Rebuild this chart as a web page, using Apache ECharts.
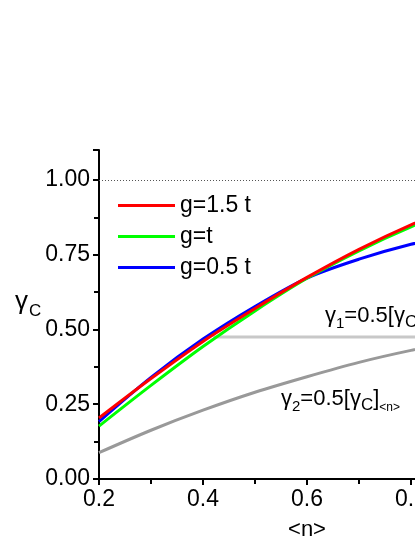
<!DOCTYPE html>
<html>
<head>
<meta charset="utf-8">
<script src="https://cdn.jsdelivr.net/npm/echarts@6/dist/echarts.min.js"></script>
<style>
html, body { margin: 0; padding: 0; background: #fff; }
#chart { width: 415px; height: 537px; }
</style>
</head>
<body>
<div id="chart"></div>
<script>
// <n> sample points
var nValues = [0.2, 0.3, 0.4, 0.5, 0.6, 0.7, 0.8, 0.85];
// gamma_C for the three couplings
var gRed = [0.204, 0.336, 0.46, 0.57, 0.674, 0.768, 0.85, 0.882];   // g=1.5 t
var gGreen = [0.177, 0.313, 0.443, 0.562, 0.671, 0.763, 0.843, 0.874]; // g=t
var gBlue = [0.192, 0.34, 0.468, 0.577, 0.672, 0.735, 0.785, 0.8];   // g=0.5 t
// gamma_2 curve
var gamma2 = [0.088, 0.163, 0.23, 0.29, 0.342, 0.39, 0.43, 0.445];
// gamma_1 flat line
var gamma1X = [0.42, 1.0];
var gamma1Y = [0.475, 0.475];
var legendNames = ['g=1.5 t', 'g=t', 'g=0.5 t'];
var yTicks = [0, 0.25, 0.5, 0.75, 1.0];

function pairs(xs, ys) {
    return xs.map(function (x, i) { return [x, ys[i]]; });
}

var FONT = "'Liberation Sans', Arial, sans-serif";
var chart = echarts.init(document.getElementById('chart'));

var option = {
    animation: false,
    backgroundColor: '#fff',
    textStyle: { fontFamily: FONT, color: '#000' },
    // plot runs on past the right edge of the picture
    grid: { left: 99, width: 416, top: 150, bottom: 58, containLabel: false, outerBoundsMode: 'none' },
    legend: {
        data: legendNames,
        orient: 'vertical',
        left: 118,
        top: 194,
        padding: 0,
        icon: 'rect',
        itemWidth: 57,
        itemHeight: 3,
        itemGap: 8,
        textStyle: { fontSize: 23, color: '#000', fontFamily: FONT }
    },
    xAxis: {
        type: 'value',
        min: 0.2,
        max: 1.0,
        interval: 0.2,
        name: '<n>',
        nameLocation: 'middle',
        nameGap: 40,
        nameTextStyle: { fontSize: 22, color: '#000', fontFamily: FONT },
        axisLine: { lineStyle: { color: '#000', width: 2 } },
        axisTick: { length: 6, lineStyle: { color: '#000', width: 2 } },
        minorTick: { show: true, splitNumber: 2, length: 5, lineStyle: { color: '#000', width: 2 } },
        axisLabel: { fontSize: 23, color: '#000', margin: 9, fontFamily: FONT,
            formatter: function (v) { return v.toFixed(1); } },
        splitLine: { show: false }
    },
    yAxis: {
        type: 'value',
        min: 0,
        max: 1.1,
        interval: 0.25,
        axisLine: { show: true, lineStyle: { color: '#000', width: 2 } },
        axisTick: { show: true, length: 6, lineStyle: { color: '#000', width: 2 } },
        minorTick: { show: true, splitNumber: 2, length: 5, lineStyle: { color: '#000', width: 2 } },
        axisLabel: { fontSize: 23, color: '#000', margin: 9, fontFamily: FONT,
            formatter: function (v) { return yTicks.indexOf(v) >= 0 ? v.toFixed(2) : ''; } },
        splitLine: { show: false }
    },
    series: [
        {
            name: 'gamma1', type: 'line', data: pairs(gamma1X, gamma1Y),
            symbol: 'none', lineStyle: { color: '#c8c8c8', width: 3 },
            markLine: {
                silent: true, symbol: 'none', label: { show: false },
                lineStyle: { color: '#555', width: 1, type: [1, 2] },
                data: [{ yAxis: 1.0 }]
            }
        },
        {
            name: 'gamma2', type: 'line', data: pairs(nValues, gamma2), smooth: 0.3,
            symbol: 'none', lineStyle: { color: '#999', width: 3 }
        },
        {
            name: 'g=0.5 t', type: 'line', data: pairs(nValues, gBlue), smooth: 0.3,
            symbol: 'none', color: '#0000ff', lineStyle: { color: '#0000ff', width: 3 }
        },
        {
            name: 'g=t', type: 'line', data: pairs(nValues, gGreen), smooth: 0.3,
            symbol: 'none', color: '#00ff00', lineStyle: { color: '#00ff00', width: 3 }
        },
        {
            name: 'g=1.5 t', type: 'line', data: pairs(nValues, gRed), smooth: 0.3,
            symbol: 'none', color: '#ff0000', lineStyle: { color: '#ff0000', width: 3 }
        }
    ],
    graphic: [
        // y axis name: gamma with subscript C
        { type: 'text', left: 15, top: 289, style: { text: 'γ', fill: '#000', font: '26px ' + FONT } },
        { type: 'text', left: 29, top: 303, style: { text: 'C', fill: '#000', font: '17px ' + FONT } },
        {
            type: 'text', left: 325, top: 305,
            style: {
                text: '{m|γ}{a|1}{m|=0.5[γ}{c|C}{m|]}',
                fill: '#000',
                rich: {
                    m: { fontSize: 22, lineHeight: 30, fontFamily: FONT, verticalAlign: 'middle' },
                    a: { fontSize: 15, lineHeight: 12, fontFamily: FONT, verticalAlign: 'bottom' },
                    c: { fontSize: 17, lineHeight: 14, fontFamily: FONT, verticalAlign: 'bottom' }
                }
            }
        },
        {
            type: 'text', left: 281, top: 388,
            style: {
                text: '{m|γ}{a|2}{m|=0.5[γ}{c|C}{m|]}{n|<n>}',
                fill: '#000',
                rich: {
                    m: { fontSize: 22, lineHeight: 30, fontFamily: FONT, verticalAlign: 'middle' },
                    a: { fontSize: 15, lineHeight: 15, fontFamily: FONT, verticalAlign: 'bottom' },
                    c: { fontSize: 17, lineHeight: 14, fontFamily: FONT, verticalAlign: 'bottom' },
                    n: { fontSize: 12, lineHeight: 10, fontFamily: FONT, verticalAlign: 'bottom' }
                }
            }
        }
    ]
};

chart.setOption(option);
window.addEventListener('resize', function () { chart.resize(); });
</script>
</body>
</html>
